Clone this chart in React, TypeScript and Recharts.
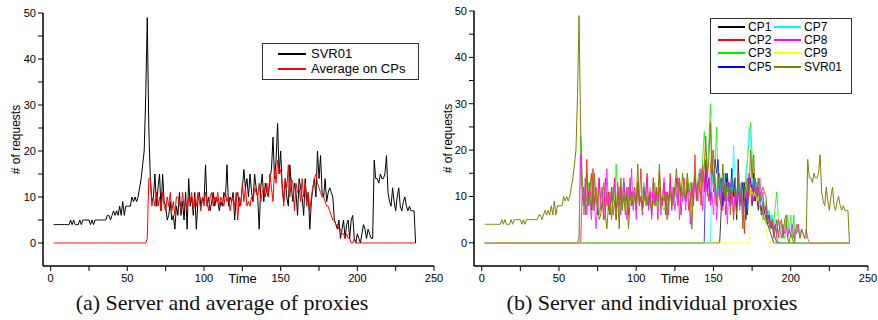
import React from 'react';
import { LineChart, Line, XAxis, YAxis, Legend } from 'recharts';

const FONT = "'Liberation Sans', Arial, sans-serif";
const SERIF = "'Liberation Serif', 'Times New Roman', serif";

const T_START = 2;

// server requests, one value per step from t=2 to t=238
const svr01 = [
  4, 4, 4, 4, 4, 4, 4, 4, // 2-9
  4, 4, 4, 5, 4, 5, 4, 4, 4, 5, // 10
  4, 5, 5, 5, 5, 5, 4, 5, 4, 5, // 20
  5, 5, 5, 5, 5, 5, 5, 6, 6, 5, // 30
  6, 7, 6, 7, 6, 8, 6, 9, 6, 8, // 40
  8, 8, 8, 10, 9, 10, 9, 10, 12, 14, // 50
  17, 20, 32, 49, 25, 14, 9, 10, 15, 8, // 60
  12, 15, 7, 15, 9, 8, 5, 6, 9, 5, // 70
  6, 3, 8, 6, 11, 6, 9, 5, 11, 3, // 80
  14, 8, 10, 6, 11, 3, 9, 11, 8, 10, // 90
  9, 17, 8, 10, 7, 9, 11, 8, 10, 9, // 100
  7, 9, 8, 11, 10, 17, 8, 10, 9, 11, // 110
  5, 10, 11, 8, 9, 12, 16, 12, 14, 10, // 120
  15, 11, 9, 15, 12, 10, 3, 12, 15, 9, // 130
  13, 11, 10, 14, 16, 23, 14, 18, 26, 15, // 140
  20, 12, 9, 14, 10, 8, 17, 12, 9, 13, // 150
  11, 6, 14, 12, 10, 6, 14, 9, 11, 3, // 160
  9, 12, 14, 10, 20, 14, 19, 11, 10, 14, // 170
  9, 11, 12, 11, 10, 5, 4, 3, 5, 1, // 180
  3, 5, 1, 4, 5, 1, 5, 6, 1, 0, // 190
  2, 1, 0, 2, 4, 3, 1, 3, 2, 1, // 200
  1, 18, 14, 14, 13, 15, 14, 14, 15, 19, // 210
  11, 9, 8, 12, 9, 7, 10, 12, 8, 7, // 220
  9, 10, 8, 7, 8, 7, 7, 7, 0, // 230-238
];

// average on CPs, zero outside its segment
const AVG_START = 63;
const avgCps = [
  1, 14, 14, 8, 10, 8, 11, // 63-69
  8, 10, 7, 11, 8, 7, 10, 8, 11, 7,
  9, 6, 10, 10, 9, 7, 11, 8, 9, 7,
  10, 9, 11, 7, 10, 8, 11, 9, 7, 10,
  8, 11, 9, 7, 10, 11, 8, 10, 9, 11, // 100
  8, 10, 9, 8, 11, 9, 10, 7, 9, 10,
  8, 11, 5, 10, 8, 13, 9, 12, 8, 9,
  8, 10, 9, 12, 11, 10, 13, 9, 11, 12,
  10, 13, 10, 15, 12, 9, 16, 13, 18, 15, // 140
  16, 13, 8, 14, 12, 17, 10, 14, 13, 7,
  13, 11, 12, 9, 14, 10, 13, 8, 11, 7,
  10, 12, 14, 15, 13, 12, 11, 10, 10, 9,
  8, 8, 7, 6, 5, 5, 4, 4, 3, 3, // 180
  2, 2, 1, 2, 1, 1, 0, 0, 1, // 190-198
];

const CP1_START = 155;
const cp1 = [
  7, 12, 9, 15, 11, // 155-159
  13, 8, 16, 10, 14, 5, 18, 9, 12, 7,
  13, 5, 10, 14, 11, 8, 12, 9, 10, 7,
  9, 6, 8, 5, 6, 4, 3, 2, 1, // 180-188
];

const CP2_START = 65;
const cp2 = [
  10, 12, 6, 18, 9, // 65-69
  13, 7, 16, 8, 12, 6, 14, 9, 12, 5,
  14, 8, 11, 6, 12, 9, 14, 5, 13, 8,
  11, 7, 13, 9, 12, 6, 14, 8, 10, 12,
  7, 13, 9, 16, 7, 12, 10, 15, 8, 11, // 100
  6, 14, 9, 12, 5, 15, 10, 8, 13, 6,
  11, 9, 15, 7, 12, 10, 14, 8, 13, 6,
  11, 14, 9, 12, 7, 10, 13, 8, 19, 9,
  12, 15, 8, 17, 11, 18, 12, 9, 16, 20, // 140
  11, 14, 8, 15, 10, 13, 7, 12, 6, 14,
  11, 9, 13, 5, 12, 10, 14, 8, 11, 13,
  2, 10, 12, 15, 13, 11, 9, 14, 10, 12,
  8, 9, 6, 7, 5, 4, 6, 3, 5, 2, // 180
  4, 1,
];

const CP3_START = 63;
const cp3 = [
  2, 23, 12, 6, 11, 9, 13, // 63-69
  8, 10, 12, 7, 11, 9, 6, 10, 12, 8,
  9, 11, 7, 10, 9, 12, 8, 17, 10, 9,
  11, 7, 13, 9, 10, 8, 12, 9, 11, 10,
  8, 12, 10, 9, 11, 13, 8, 10, 9, 12, // 100
  10, 9, 13, 8, 11, 10, 9, 8, 7, 8,
  7, 9, 11, 10, 8, 12, 10, 9, 13, 11,
  10, 12, 9, 14, 11, 13, 10, 12, 15, 11,
  14, 16, 13, 18, 24, 20, 15, 22, 30, 19, // 140
  14, 17, 25, 12, 15, 11, 14, 10, 13, 9,
  12, 11, 14, 10, 13, 9, 11, 12, 8, 13,
  10, 15, 18, 22, 26, 19, 14, 12, 10, 9,
  8, 7, 5, 6, 4, 5, 7, 5, 6, 4, // 180
  8, 11, 5, 3, 4, 2, 1, 3, 6, 2,
  6, 1, 6,
];

const CP5_START = 145;
const cp5 = [
  17, 11, 14, 9, 16, // 145-149
  12, 18, 15, 18, 10, 14, 8, 13, 11, 15,
  9, 12, 16, 10, 14, 7, 12, 9, 11, 13,
  8, 10, 6, 12, 14, 11, 15, 9, 13, 8,
  11, 7, 9, 6, 8, 5, 6, 3, 4, 2, // 180
  1,
];

const CP7_START = 149;
const cp7 = [
  15, // 149
  12, 16, 10, 14, 9, 13, 11, 15, 8, 12,
  10, 12, 11, 21, 14, 9, 12, 10, 13, 7,
  9, 12, 18, 25, 22, 14, 12, 10, 13, 9,
  11, 8, 10, 7, 9, 6, 7, 5, 6, 4, // 180
  5, 2, 3, 1,
];

const CP8_START = 64;
const cp8 = [
  19, 10, 8, 14, 6, 11, // 64-69
  9, 5, 12, 8, 3, 10, 14, 7, 9, 13,
  6, 16, 8, 11, 5, 10, 13, 7, 9, 12,
  6, 10, 14, 8, 5, 12, 9, 16, 7, 11,
  5, 13, 8, 10, 6, 12, 9, 14, 7, 11, // 100
  5, 13, 8, 10, 9, 12, 6, 10, 14, 8,
  11, 6, 13, 9, 12, 7, 10, 14, 5, 12,
  9, 11, 7, 13, 10, 4, 12, 8, 14, 11,
  9, 13, 16, 7, 12, 17, 10, 14, 8, 11, // 140
  6, 13, 5, 10, 12, 7, 14, 9, 11, 4,
  13, 8, 10, 6, 12, 9, 11, 7, 13, 5,
  10, 12, 8, 14, 11, 9, 13, 10, 12, 8,
  14, 9, 11, 7, 8, 5, 6, 4, 5, 3, // 180
  4, 2, 5, 3, 1, 4, 2, 5, 1, 3,
  2, 4, 1, 3, 2, 4, 1, 3, 2, 1, // 200
  3, 1,
];

const CP9_START = 174;
const cp9 = [12, 11, 10, 11, 9, 10, 8, 9, 7, 6, 3, 1];

const seg = (arr: number[], start: number, t: number) =>
  t >= start && t < start + arr.length ? arr[t - start] : 0;

const data = svr01.map((v, i) => {
  const t = T_START + i;
  return {
    t,
    SVR01: v,
    avg: seg(avgCps, AVG_START, t),
    CP1: seg(cp1, CP1_START, t),
    CP2: seg(cp2, CP2_START, t),
    CP3: seg(cp3, CP3_START, t),
    CP5: seg(cp5, CP5_START, t),
    CP7: seg(cp7, CP7_START, t),
    CP8: seg(cp8, CP8_START, t),
    CP9: seg(cp9, CP9_START, t),
  };
});

const X_TICKS = [0, 25, 50, 75, 100, 125, 150, 175, 200, 225, 250];
const Y_TICKS = [0, 5, 10, 15, 20, 25, 30, 35, 40, 45, 50];

const LEFT_SERIES = [
  { key: 'SVR01', name: 'SVR01', color: '#000000' },
  { key: 'avg', name: 'Average on CPs', color: '#ff0000' },
];

// legend reads column by column: CP1..CP5 then CP7..SVR01
const RIGHT_SERIES = [
  { key: 'CP1', name: 'CP1', color: '#000000' },
  { key: 'CP2', name: 'CP2', color: '#ff0000' },
  { key: 'CP3', name: 'CP3', color: '#00ee00' },
  { key: 'CP5', name: 'CP5', color: '#0000ff' },
  { key: 'CP7', name: 'CP7', color: '#00ffff' },
  { key: 'CP8', name: 'CP8', color: '#ff00ff' },
  { key: 'CP9', name: 'CP9', color: '#ffff00' },
  { key: 'SVR01', name: 'SVR01', color: '#808000' },
];

const YTick = (props: any) => {
  const { x, y, payload } = props;
  if (payload.value % 10 !== 0) return <g />;
  return (
    <text x={x} y={y} dy="0.35em" textAnchor="end" fontSize={11} fill="#000" fontFamily={FONT}>
      {payload.value}
    </text>
  );
};

const XTick = (props: any) => {
  const { x, y, payload } = props;
  if (payload.value % 50 !== 0) return <g />;
  return (
    <text x={x} y={y} dy="0.71em" textAnchor="middle" fontSize={11} fill="#000" fontFamily={FONT}>
      {payload.value}
    </text>
  );
};

function LegendBox({ series, width, height, fontSize, rows, rowStep, rowTop, itemLeft, colStep, sampleWidth, gap }: any) {
  return (
    <div style={{ width, height, boxSizing: 'border-box', border: '1.5px solid #333', position: 'relative', background: '#fff', fontFamily: FONT, fontSize, color: '#000', lineHeight: 1 }}>
      {series.map((s: any, i: number) => {
        const col = Math.floor(i / rows);
        const row = i % rows;
        return (
          <div key={s.key} style={{ position: 'absolute', left: itemLeft + col * colStep, top: rowTop + row * rowStep, height: rowStep, display: 'flex', alignItems: 'center', whiteSpace: 'nowrap' }}>
            <div style={{ width: sampleWidth, height: 2, background: s.color }} />
            <span style={{ marginLeft: gap }}>{s.name}</span>
          </div>
        );
      })}
    </div>
  );
}

const axisLine = { stroke: '#000', strokeWidth: 1.5 };
const tickLine = { stroke: '#000', strokeWidth: 1 };

function Panel({ width, top, right, yWidth, labelOffset, children, legend }: any) {
  return (
    <LineChart width={width} height={290} data={data} margin={{ top, right, left: 0, bottom: 0 }}>
      <XAxis
        type="number"
        dataKey="t"
        domain={[-5, 250]}
        ticks={X_TICKS}
        interval={0}
        height={24}
        tick={<XTick />}
        tickSize={5}
        tickMargin={3}
        axisLine={axisLine}
        tickLine={tickLine}
        label={{ value: 'Time', position: 'center', fontSize: 13, fill: '#000', fontFamily: FONT, dx: 4 }}
      />
      <YAxis
        type="number"
        domain={[-5, 50]}
        ticks={Y_TICKS}
        interval={0}
        width={yWidth}
        tick={<YTick />}
        tickSize={5}
        axisLine={axisLine}
        tickLine={tickLine}
        label={{ value: '# of requests', angle: -90, position: 'insideLeft', offset: labelOffset, fontSize: 12, fill: '#000', fontFamily: FONT, style: { textAnchor: 'middle' } }}
      />
      {legend}
      {children}
    </LineChart>
  );
}

export default function App() {
  return (
    <div style={{ position: 'absolute', left: 0, top: 0, width: 878, height: 320, background: '#fff', overflow: 'hidden' }}>
      <style>{'.recharts-surface { overflow: visible; }'}</style>
      <div style={{ position: 'absolute', left: 0, top: 0 }}>
        <Panel
          width={440}
          top={13}
          right={6}
          yWidth={43}
          labelOffset={16}
          legend={
            <Legend
              layout="horizontal"
              verticalAlign="middle"
              align="center"
              content={() => (
                <LegendBox series={LEFT_SERIES} width={157} height={37} fontSize={13} rows={2} rowStep={15} rowTop={2} itemLeft={15} colStep={0} sampleWidth={28} gap={5} />
              )}
              wrapperStyle={{ left: 262, top: 43, width: 157, height: 37 }}
            />
          }
        >
          {LEFT_SERIES.map((s) => (
            <Line key={s.key} type="linear" dataKey={s.key} name={s.name} stroke={s.color} strokeWidth={1} dot={false} isAnimationActive={false} />
          ))}
        </Panel>
      </div>
      <div style={{ position: 'absolute', left: 440, top: 0 }}>
        <Panel
          width={438}
          top={11}
          right={10}
          yWidth={34}
          labelOffset={8}
          legend={
            <Legend
              layout="horizontal"
              verticalAlign="middle"
              align="center"
              content={() => (
                <LegendBox series={RIGHT_SERIES} width={142} height={76} fontSize={12} rows={4} rowStep={13.3} rowTop={1} itemLeft={7} colStep={56} sampleWidth={27} gap={3} />
              )}
              wrapperStyle={{ left: 270, top: 18, width: 142, height: 76 }}
            />
          }
        >
          {RIGHT_SERIES.map((s) => (
            <Line
              key={s.key}
              type="linear"
              dataKey={s.key}
              name={s.name}
              stroke={s.color}
              strokeOpacity={s.key === 'SVR01' ? 1 : 0.75}
              strokeWidth={1}
              dot={false}
              isAnimationActive={false}
            />
          ))}
        </Panel>
      </div>
      <div style={{ position: 'absolute', left: 0, top: 289, width: 444, height: 28, lineHeight: '28px', textAlign: 'center', fontFamily: SERIF, fontSize: 22, color: '#111' }}>
        (a) Server and average of proxies
      </div>
      <div style={{ position: 'absolute', left: 430, top: 289, width: 444, height: 28, lineHeight: '28px', textAlign: 'center', fontFamily: SERIF, fontSize: 22, color: '#111' }}>
        (b) Server and individual proxies
      </div>
    </div>
  );
}
